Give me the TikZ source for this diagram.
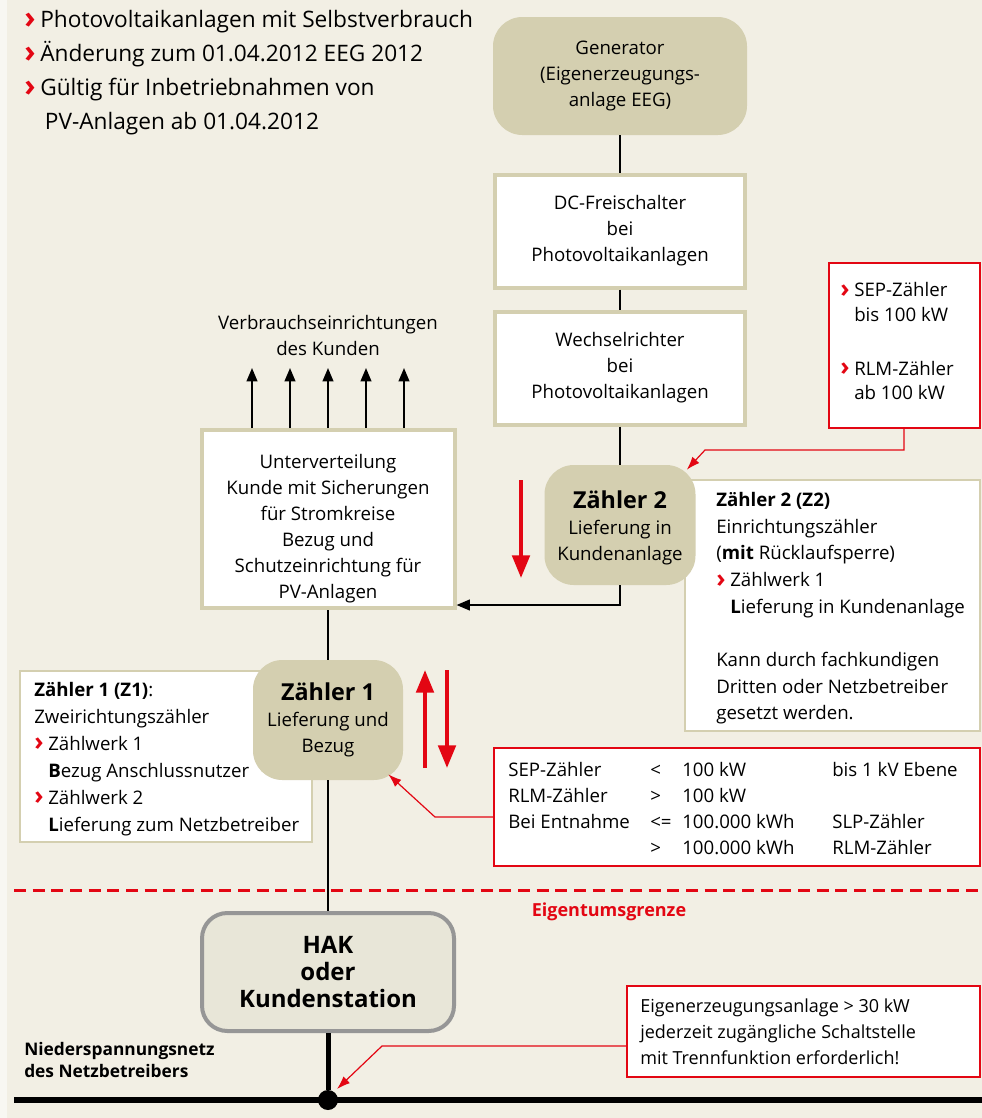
\documentclass[tikz,border=0pt]{standalone}
\usepackage{fontspec}
\usepackage{graphicx}
\setmainfont{Open Sans}
\usetikzlibrary{arrows.meta,positioning}
\definecolor{cstbg}{RGB}{242,239,228}
\definecolor{cstrim}{RGB}{248,247,242}
\definecolor{csttan}{RGB}{212,207,176}
\definecolor{cstred}{RGB}{227,6,19}
\definecolor{cstgray}{RGB}{150,150,150}
\definecolor{csthak}{RGB}{232,230,216}
\newcommand{\chev}[1][10.5pt]{\makebox[#1][l]{\color{cstred}\raisebox{-0.03em}{\scalebox{1.35}{\bfseries ›}}}}
\newcommand{\ind}{\hspace*{10.5pt}}
\newcommand{\cstbig}{\fontsize{17.5}{20}\selectfont\bfseries}
\tikzset{
  % lines
  cstline/.style   ={line width=1.5pt},
  cstua/.style     ={-{Triangle[width=8pt,length=10pt]}, line width=1.5pt}, % black arrow
  cstredarr/.style ={-{Triangle[width=13pt,length=17pt]}, line width=3pt, cstred}, % flow arrow
  cstpoint/.style  ={-{Latex[width=7pt,length=10pt]}, line width=0.9pt, cstred}, % note pointer
  % nodes
  cstsize/.style 2 args ={minimum width=#1*0.75pt, minimum height=#2*0.75pt},
  cstmeter/.style  ={fill=csttan, rounded corners=22pt, align=center, inner sep=0pt},
  csthak/.style    ={fill=csthak, draw=cstgray, line width=3pt, rounded corners=19pt, align=center, inner sep=0pt},
  cstbox/.style    ={fill=white, draw=csttan, line width=3pt, align=center, inner sep=0pt},
  cstinfo/.style   ={fill=white, draw=csttan, line width=1pt, inner sep=0pt},
  cstnote/.style   ={fill=white, draw=cstred, line width=1pt, inner sep=0pt},
  csttext/.style   ={align=left, anchor=north west, inner sep=0pt}
}

\begin{document}
\begin{tikzpicture}[x=0.75pt,y=-0.75pt,font=\fontsize{14}{19.5}\selectfont]
  \useasboundingbox (0,0) rectangle (982,1118);
  \fill[cstrim] (0,0) rectangle (982,1118);
  \fill[cstbg] (7,0) rectangle (982,1118);

  % header list
  \node[csttext, font=\fontsize{17}{25.5}\selectfont] (head) at (24,10)
    {\chev[12pt]Photovoltaikanlagen mit Selbstverbrauch\\
     \chev[12pt]Änderung zum 01.04.2012 EEG 2012\\
     \chev[12pt]Gültig für Inbetriebnahmen von\\
     \hspace*{15.5pt}PV-Anlagen ab 01.04.2012};

  % generator branch
  \node[cstmeter, cstsize={254}{118}] (gen) at (620,76) {Generator\\(Eigenerzeugungs-\\anlage EEG)};
  \node[cstbox, cstsize={250}{113}] (dc) at (620,231) {DC-Freischalter\\bei\\Photovoltaikanlagen};
  \node[cstbox, cstsize={250}{113}] (wr) at (620,368) {Wechselrichter\\bei\\Photovoltaikanlagen};
  \node[cstinfo, cstsize={295}{251}] (z2box) at (832.5,605.5) {};
  \node[cstmeter, cstsize={151}{120}] (z2) at (620,525) {{\cstbig\rule{0pt}{17.5pt}Zähler 2}\\Lieferung in\\Kundenanlage};
  \node[csttext, font=\fontsize{14}{20}\selectfont] (z2txt) at (716,492)
    {\textbf{Zähler 2 (Z2)}\\Einrichtungszähler\\(\textbf{mit} Rücklaufsperre)\\
     \chev Zählwerk 1\\\ind\textbf{L}ieferung in Kundenanlage\\[20pt]
     Kann durch fachkundigen\\Dritten oder Netzbetreiber\\gesetzt werden.};

  % customer side
  \node[align=center] (vb) at (328,335) {Verbrauchseinrichtungen\\des Kunden};
  \node[cstbox, cstsize={253}{178}] (uv) at (328,519)
    {\rule{0pt}{25pt}Unterverteilung\\Kunde mit Sicherungen\\für Stromkreise\\Bezug und\\Schutzeinrichtung für\\PV-Anlagen};
  \node[cstinfo, cstsize={292}{171}] (z1box) at (166,756.5) {};
  \node[cstmeter, cstsize={150}{120}] (z1) at (328,720) {{\cstbig Zähler 1}\\Lieferung und\\Bezug};
  \node[csttext, font=\fontsize{14}{20.2}\selectfont] (z1txt) at (34,682)
    {\textbf{Zähler 1 (Z1)}:\\Zweirichtungszähler\\\chev Zählwerk 1\\\ind\textbf{B}ezug Anschlussnutzer\\
     \chev Zählwerk 2\\\ind\textbf{L}ieferung zum Netzbetreiber};
  \node[csthak, cstsize={252}{118}, font=\fontsize{18}{20}\selectfont\bfseries] (hak) at (328,972) {HAK\\oder\\Kundenstation};

  % red notes
  \node[cstnote, cstsize={151}{165}] (sep) at (904.5,345.5) {};
  \node[csttext, font=\fontsize{14}{18.5}\selectfont] (septxt) at (840,282)
    {\chev SEP-Zähler\\\ind bis 100 kW\\[22pt]\chev RLM-Zähler\\\ind ab 100 kW};
  \node[cstnote, cstsize={486}{118}] (tbl) at (737,807) {};
  \node[csttext, font=\fontsize{14}{19.5}\selectfont] (tbltxt) at (508,758)
    {\begin{tabular}{@{}p{106.5pt}@{}p{24pt}@{}p{112.5pt}@{}l@{}}
      SEP-Zähler   & <  & 100 kW      & bis 1 kV Ebene\\
      RLM-Zähler   & >  & 100 kW      & \\
      Bei Entnahme & <= & 100.000 kWh & SLP-Zähler\\
                   & >  & 100.000 kWh & RLM-Zähler
     \end{tabular}};
  \node[cstnote, cstsize={353}{91}] (eig) at (803.5,1031.5) {};
  \node[csttext, font=\fontsize{13.5}{19.5}\selectfont] (eigtxt) at (640,999)
    {Eigenerzeugungsanlage > 30 kW\\jederzeit zugängliche Schaltstelle\\mit Trennfunktion erforderlich!};

  % grid
  \node[font=\bfseries\fontsize{13.5}{18}\selectfont, text=cstred] (grenze) at (609,912) {Eigentumsgrenze};
  \node[csttext, font=\bfseries\fontsize{13}{16.5}\selectfont] (netz) at (24,1042) {Niederspannungsnetz\\des Netzbetreibers};
  \coordinate (gl) at (14,890);
  \coordinate (gr) at (982,890);
  \coordinate (busl) at (14,1100);
  \coordinate (busr) at (982,1100);
  \draw[cstred, line width=2.25pt, dash pattern=on 9pt off 5pt] (gl) -- (gr);
  \draw[line width=4pt] (busl) -- (busr);
  \node[circle, fill=black, inner sep=0pt, minimum size=15pt] (dot) at (328,1100) {};

  % connectors
  \draw[cstline] (gen) -- (dc);
  \draw[cstline] (dc) -- (wr);
  \draw[cstline] (wr) -- (z2);
  \draw[cstua] (z2.south) |- (uv.east |- 0,605);
  \foreach \x in {252,290,328,366,404}
    \draw[cstua] (uv.north -| \x,0) -- (\x,368);
  \draw[cstline] (uv) -- (z1);
  \draw[cstline] (z1) -- (hak);
  \draw[line width=3.75pt] (hak) -- (dot);

  % energy flow
  \draw[cstredarr] (521,480) -- (521,578);
  \draw[cstredarr] (425,768) -- (425,670);
  \draw[cstredarr] (447,670) -- (447,768);

  % pointers
  \draw[cstpoint] (sep.south -| 904,0) |- (705,450) -- ([shift={(-9,5)}]z2.north east);
  \draw[cstpoint] (tbl.west |- 0,817) -- (435,817) -- ([shift={(-15,-6)}]z1.south east);
  \draw[cstpoint] (eig.west |- 0,1046) -- (382,1046) -- ([shift={(9,-11)}]dot.center);
\end{tikzpicture}
\end{document}
